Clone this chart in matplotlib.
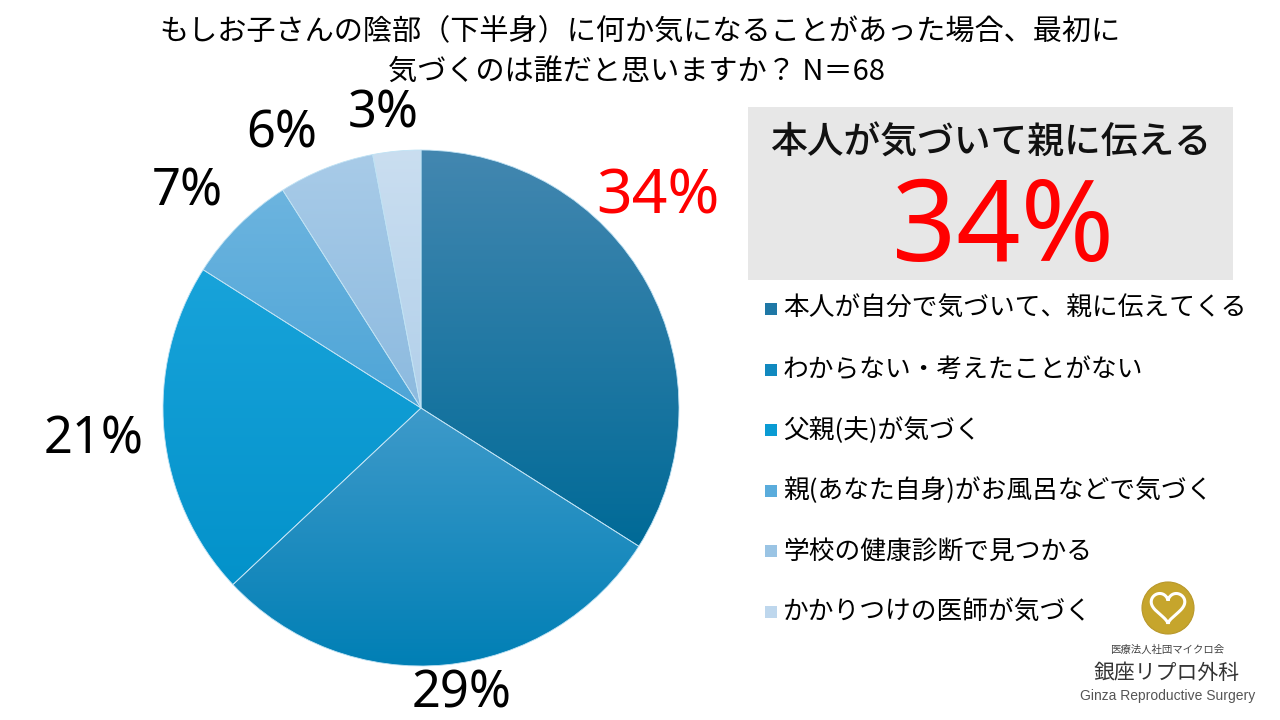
import numpy as np
import matplotlib
matplotlib.use("Agg")
import matplotlib.pyplot as plt
from matplotlib.patches import Rectangle, Circle, PathPatch
from matplotlib.path import Path
from matplotlib.colors import LinearSegmentedColormap

plt.rcParams['font.family'] = ['Noto Sans CJK JP', 'DejaVu Sans']

# ---------------- data ----------------
categories = [
    "本人が自分で気づいて、親に伝えてくる",
    "わからない・考えたことがない",
    "父親(夫)が気づく",
    "親(あなた自身)がお風呂などで気づく",
    "学校の健康診断で見つかる",
    "かかりつけの医師が気づく",
]
values = [34, 29, 21, 7, 6, 3]
title_lines = ["もしお子さんの陰部（下半身）に何か気になることがあった場合、最初に",
               "気づくのは誰だと思いますか？ N＝68"]
highlight_heading = "本人が気づいて親に伝える"
highlight_value = "34%"

# ---------------- style ----------------
grad_top = ['#4387B0', '#3E9ACA', '#18A3DA', '#6CB4DF', '#A8CBE8', '#CADEF0']
grad_bot = ['#006A97', '#007FB5', '#0392CA', '#4EA5D7', '#8CBADF', '#B2D0EA']
legend_cols = ['#1F78A6', '#1189BF', '#0A9BD3', '#5AACDC', '#9AC4E4', '#BED7ED']
num_font = ['Noto Sans', 'DejaVu Sans']

W, H = 1280, 720
fig = plt.figure(figsize=(W / 100, H / 100), dpi=100)
fig.patch.set_facecolor('white')

# overlay axes in pixel coordinates (y downwards)
ov = fig.add_axes([0, 0, 1, 1])
ov.set_xlim(0, W)
ov.set_ylim(H, 0)
ov.axis('off')

# pie axes
cx, cy, r = 421, 408, 258
pax = fig.add_axes([(cx - r) / W, (H - cy - r) / H, 2 * r / W, 2 * r / H])
wedges, _ = pax.pie(values, startangle=90, counterclock=False, radius=1.0,
                    colors=grad_bot,
                    wedgeprops=dict(edgecolor='#BFE2F4', linewidth=0.6))
pax.set_xlim(-1, 1)
pax.set_ylim(-1, 1)
pax.axis('off')

# vertical gradients inside each wedge
for i, w in enumerate(wedges):
    verts = w.get_path().vertices
    y0, y1 = verts[:, 1].min(), verts[:, 1].max()
    cmap = LinearSegmentedColormap.from_list('g%d' % i, [grad_bot[i], grad_top[i]])
    grad = np.linspace(0, 1, 256).reshape(-1, 1)
    im = pax.imshow(grad, extent=[-1, 1, y0, y1], origin='lower', cmap=cmap,
                    aspect='auto', zorder=w.get_zorder() + 0.1)
    im.set_clip_path(w)
for w in wedges:
    w.set_facecolor('none')
    w.set_zorder(5)
pax.set_xlim(-1, 1)
pax.set_ylim(-1, 1)

# percentage labels (pixel layout positions: centre x, baseline y)
label_pos = [(658, 213), (462, 707), (94, 454), (187, 205), (282, 147), (383, 127)]
for i, v in enumerate(values):
    col = '#FF0000' if i == 0 else 'black'
    fs = 45 if i == 0 else 36.5
    ov.text(label_pos[i][0], label_pos[i][1], f"{v}%", color=col, fontsize=fs,
            family=num_font, ha='center', va='baseline')

# title
ov.text(640, 32, title_lines[0], fontsize=21, ha='center', va='center', color='black')
ov.text(636, 73, title_lines[1], fontsize=21, ha='center', va='center', color='black')

# highlight box
ov.add_patch(Rectangle((748, 107), 485, 173, facecolor='#E7E7E7', edgecolor='none'))
ov.text(991, 143, highlight_heading, fontsize=26.5, ha='center', va='center',
        color='#111111', fontweight='medium')
ov.text(1003, 261, highlight_value, fontsize=81, family=num_font,
        ha='center', va='baseline', color='#FF0000')

# legend
for i, cat in enumerate(categories):
    y = 309 + i * 60.6
    ov.add_patch(Rectangle((765, y - 6), 12, 12, facecolor=legend_cols[i], edgecolor='none'))
    ov.text(783, y, cat, fontsize=18.5, ha='left', va='center', color='black')

# logo
ov.add_patch(Circle((1168, 608), 26, facecolor='#C6A52C', edgecolor='#B8972A', lw=0.8))
t = np.linspace(0, 2 * np.pi, 200)
hx = 16 * np.sin(t) ** 3
hy = 13 * np.cos(t) - 5 * np.cos(2 * t) - 2 * np.cos(3 * t) - np.cos(4 * t)
heart = Path(np.column_stack([1168 + hx * 1.05, 606 - hy * 1.05]))
ov.add_patch(PathPatch(heart, facecolor='none', edgecolor='white', lw=2.2))
ov.text(1167, 650, "医療法人社団マイクロ会", fontsize=7.5, ha='center', va='center', color='#444444')
ov.text(1167, 673, "銀座リプロ外科", fontsize=15, ha='center', va='center', color='#333333')
ov.text(1168, 696, "Ginza Reproductive Surgery", fontsize=10,
        family=['Liberation Sans', 'DejaVu Sans'], ha='center', va='center', color='#555555')

fig.savefig('out.png', dpi=100, facecolor='white')
